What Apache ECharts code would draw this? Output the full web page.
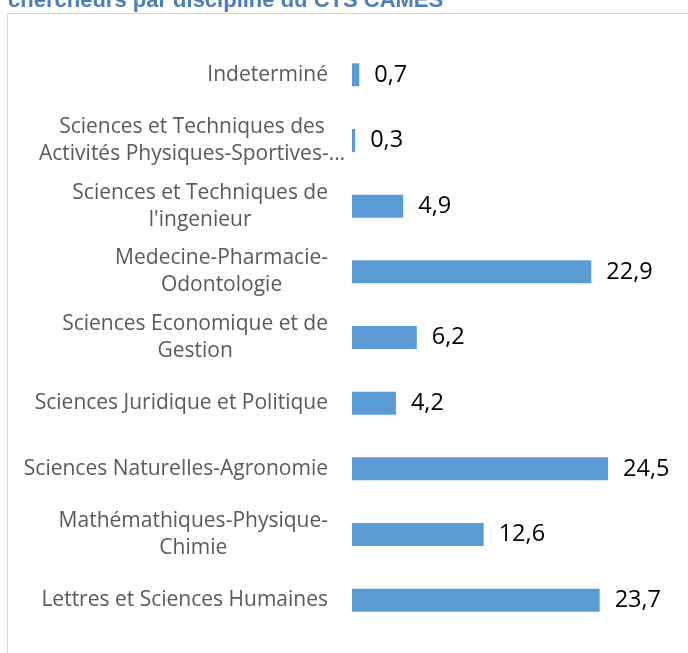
<!DOCTYPE html>
<html>
<head>
<meta charset="utf-8">
<script src="https://cdn.jsdelivr.net/npm/echarts@6/dist/echarts.min.js"></script>
<style>
  html, body { margin: 0; padding: 0; background: #fff; }
  #chart { width: 688px; height: 653px; }
</style>
</head>
<body>
<div id="chart"></div>
<script>
// disciplines, top to bottom as in the picture
var categories = [
  'Indeterminé',
  'Sciences et Techniques des\nActivités Physiques-Sportives-…',
  'Sciences et Techniques de\nl\'ingenieur',
  'Medecine-Pharmacie-\nOdontologie',
  'Sciences Economique et de\nGestion',
  'Sciences Juridique et Politique',
  'Sciences Naturelles-Agronomie',
  'Mathémathiques-Physique-\nChimie',
  'Lettres et Sciences Humaines'
]
// pourcentage de chercheurs
var values = [0.7, 0.3, 4.9, 22.9, 6.2, 4.2, 24.5, 12.6, 23.7]

var titleText = 'chercheurs par discipline du CTS CAMES'

var chart = echarts.init(document.getElementById('chart'))

// le libellé tronqué (…) déborde un peu vers la droite dans l'original
var yData = categories.map(function (c) {
  if (c.indexOf('…') > -1) {
    return { value: c, textStyle: { padding: [0, -17, 0, 0] } }
  }
  return c
})

chart.setOption({
  animation: false,
  title: {
    text: titleText,
    left: 8,
    top: -10,
    padding: 0,
    textStyle: {
      fontFamily: 'Liberation Sans',
      fontSize: 22,
      fontWeight: 'bold',
      color: '#4a7ebf'
    }
  },
  // cadre gris du graphique
  graphic: [{
    type: 'rect',
    silent: true,
    shape: { x: 7.5, y: 13.5, width: 720, height: 700 },
    style: { fill: 'none', stroke: '#d9d9d9', lineWidth: 1 }
  }],
  grid: {
    left: 352,
    right: 22.5,
    top: 42,
    bottom: 20,
    containLabel: false
  },
  xAxis: {
    type: 'value',
    min: 0,
    max: 30,
    show: false
  },
  yAxis: {
    type: 'category',
    data: yData,
    inverse: true,
    axisLine: { show: false },
    axisTick: { show: false },
    axisLabel: {
      margin: 24,
      fontFamily: 'Open Sans',
      fontSize: 21,
      lineHeight: 27,
      color: '#595959',
      // lignes centrées entre elles, bloc aligné à droite
      formatter: function (v) {
        return v.split('\n').map(function (s) { return '{c|' + s + '}' }).join('\n')
      },
      rich: {
        c: {
          align: 'center',
          fontFamily: 'Open Sans',
          fontSize: 21,
          lineHeight: 27,
          color: '#595959'
        }
      }
    }
  },
  series: [{
    type: 'bar',
    data: values,
    barWidth: 23,
    itemStyle: { color: '#5b9bd5' },
    label: {
      show: true,
      position: 'right',
      distance: 15,
      fontFamily: 'Open Sans',
      fontSize: 23.5,
      color: '#000',
      formatter: function (p) {
        return String(p.value).replace('.', ',')
      }
    }
  }]
})
</script>
</body>
</html>
